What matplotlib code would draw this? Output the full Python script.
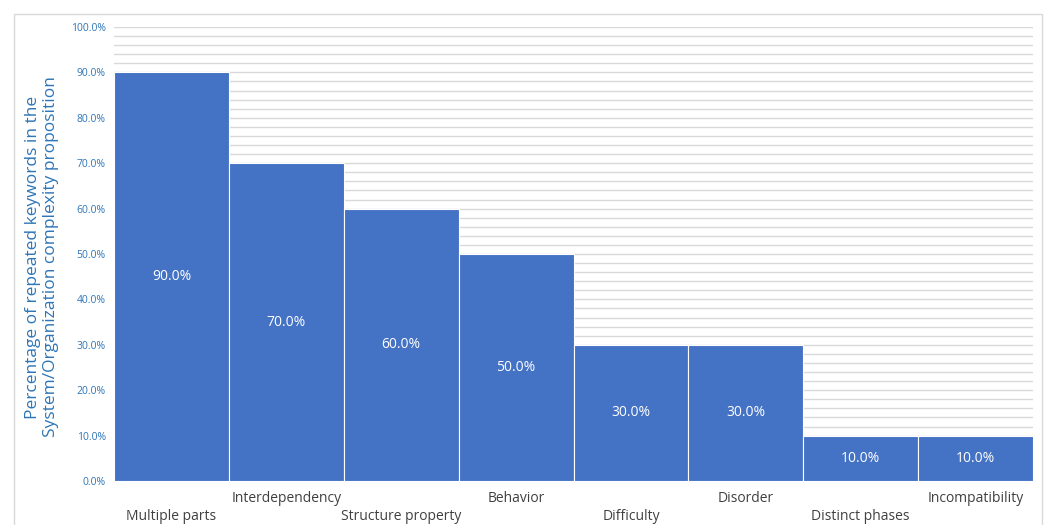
import matplotlib
matplotlib.use("Agg")
import matplotlib.pyplot as plt
from matplotlib.patches import Rectangle
import numpy as np

categories = ["Multiple parts", "Interdependency", "Structure property", "Behavior",
              "Difficulty", "Disorder", "Distinct phases", "Incompatibility"]
values = [90.0, 70.0, 60.0, 50.0, 30.0, 30.0, 10.0, 10.0]
yticks = [0, 10, 20, 30, 40, 50, 60, 70, 80, 90, 100]
ylabel = "Percentage of repeated keywords in the\nSystem/Organization complexity proposition"

plt.rcParams['font.family'] = ['Open Sans', 'DejaVu Sans']
W, H = 1046, 525
fig = plt.figure(figsize=(W / 100, H / 100), dpi=100)
ax = fig.add_axes([114 / W, 1 - 481 / H, (1033 - 114) / W, (481 - 27) / H])

bar_color = "#4472C4"
tick_color = "#2E75B6"

# outer chart border
fig.patches.append(Rectangle((14 / W, -0.02), (1042 - 14) / W, 1 - 14 / H + 0.02,
                             transform=fig.transFigure, fill=False,
                             edgecolor="#D9D9D9", linewidth=1.0))

x = np.arange(len(categories))
ax.bar(x, values, width=1.0, color=bar_color, edgecolor="white", linewidth=0.8, zorder=3)
ax.set_xlim(-0.5, len(categories) - 0.5)
ax.set_ylim(0, 100)

for yy in np.arange(2, 101, 2):
    ax.axhline(yy, color="#D9D9D9", linewidth=1.0, zorder=1)

for xi, v in zip(x, values):
    ax.text(xi, v / 2, f"{v:.1f}%", ha="center", va="center", color="white", fontsize=10, zorder=4)

ax.set_yticks(yticks)
ax.set_yticklabels([f"{t:.1f}%" for t in yticks], fontsize=7.5, color=tick_color)
ax.tick_params(axis="y", length=0, pad=6)
ax.set_xticks([])

px = 72 / 100  # points per pixel
for i, (xi, c) in enumerate(zip(x, categories)):
    off = -36 if i % 2 == 0 else -17
    ax.annotate(c, xy=(xi, 0), xycoords=("data", "axes fraction"), xytext=(0, off * px),
                textcoords="offset points", ha="center", va="center", fontsize=10, color="#404040")

for s in ax.spines.values():
    s.set_visible(False)

fig.text(42 / W, 1 - 257 / H, ylabel, rotation=90, ha="center", va="center",
         fontsize=12.5, color=tick_color, linespacing=1.15)

fig.savefig("out.png", dpi=100)
